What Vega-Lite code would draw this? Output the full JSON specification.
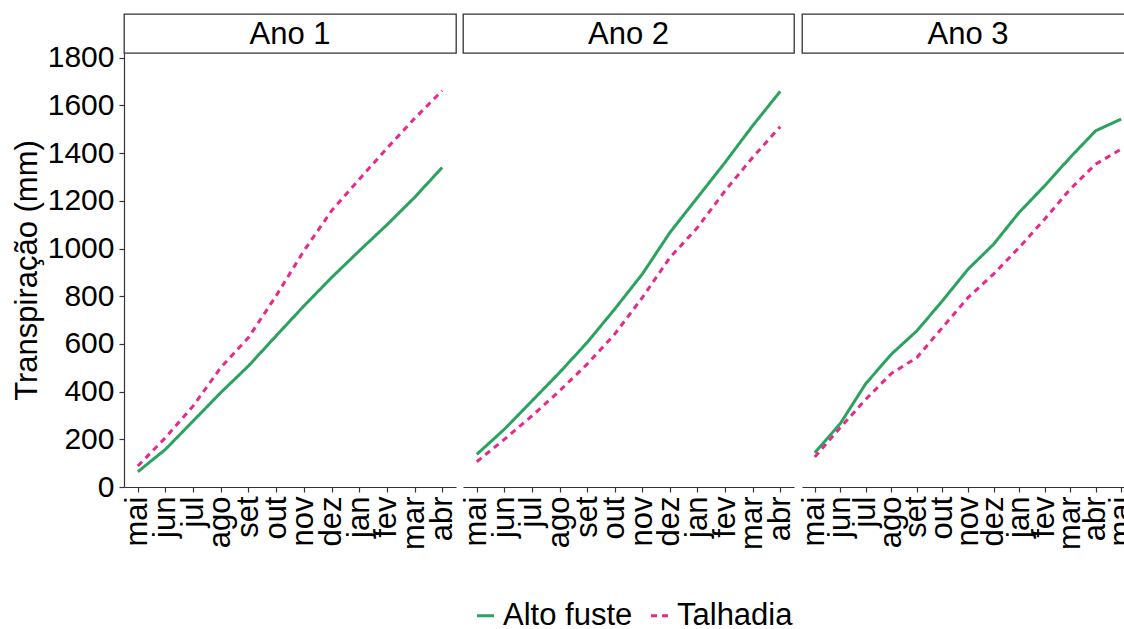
{
"$schema":"https://vega.github.io/schema/vega-lite/v6.json",
"padding":{"left":11,"top":13,"right":0,"bottom":0},
"datasets":{
"paineis":[{"ano":"Ano 1"},{"ano":"Ano 2"},{"ano":"Ano 3"}],
"serie":[
{"ano":"Ano 1","n":1,"mes":"mai","tipo":"Alto fuste","valor":64},
{"ano":"Ano 1","n":2,"mes":"jun","tipo":"Alto fuste","valor":158},
{"ano":"Ano 1","n":3,"mes":"jul","tipo":"Alto fuste","valor":277},
{"ano":"Ano 1","n":4,"mes":"ago","tipo":"Alto fuste","valor":396},
{"ano":"Ano 1","n":5,"mes":"set","tipo":"Alto fuste","valor":508},
{"ano":"Ano 1","n":6,"mes":"out","tipo":"Alto fuste","valor":634},
{"ano":"Ano 1","n":7,"mes":"nov","tipo":"Alto fuste","valor":759},
{"ano":"Ano 1","n":8,"mes":"dez","tipo":"Alto fuste","valor":878},
{"ano":"Ano 1","n":9,"mes":"jan","tipo":"Alto fuste","valor":990},
{"ano":"Ano 1","n":10,"mes":"fev","tipo":"Alto fuste","valor":1099},
{"ano":"Ano 1","n":11,"mes":"mar","tipo":"Alto fuste","valor":1214},
{"ano":"Ano 1","n":12,"mes":"abr","tipo":"Alto fuste","valor":1340},
{"ano":"Ano 1","n":1,"mes":"mai","tipo":"Talhadia","valor":88},
{"ano":"Ano 1","n":2,"mes":"jun","tipo":"Talhadia","valor":207},
{"ano":"Ano 1","n":3,"mes":"jul","tipo":"Talhadia","valor":340},
{"ano":"Ano 1","n":4,"mes":"ago","tipo":"Talhadia","valor":501},
{"ano":"Ano 1","n":5,"mes":"set","tipo":"Talhadia","valor":627},
{"ano":"Ano 1","n":6,"mes":"out","tipo":"Talhadia","valor":802},
{"ano":"Ano 1","n":7,"mes":"nov","tipo":"Talhadia","valor":990},
{"ano":"Ano 1","n":8,"mes":"dez","tipo":"Talhadia","valor":1158},
{"ano":"Ano 1","n":9,"mes":"jan","tipo":"Talhadia","valor":1290},
{"ano":"Ano 1","n":10,"mes":"fev","tipo":"Talhadia","valor":1420},
{"ano":"Ano 1","n":11,"mes":"mar","tipo":"Talhadia","valor":1545},
{"ano":"Ano 1","n":12,"mes":"abr","tipo":"Talhadia","valor":1662},
{"ano":"Ano 2","n":1,"mes":"mai","tipo":"Alto fuste","valor":137},
{"ano":"Ano 2","n":2,"mes":"jun","tipo":"Alto fuste","valor":242},
{"ano":"Ano 2","n":3,"mes":"jul","tipo":"Alto fuste","valor":361},
{"ano":"Ano 2","n":4,"mes":"ago","tipo":"Alto fuste","valor":480},
{"ano":"Ano 2","n":5,"mes":"set","tipo":"Alto fuste","valor":606},
{"ano":"Ano 2","n":6,"mes":"out","tipo":"Alto fuste","valor":746},
{"ano":"Ano 2","n":7,"mes":"nov","tipo":"Alto fuste","valor":893},
{"ano":"Ano 2","n":8,"mes":"dez","tipo":"Alto fuste","valor":1067},
{"ano":"Ano 2","n":9,"mes":"jan","tipo":"Alto fuste","valor":1214},
{"ano":"Ano 2","n":10,"mes":"fev","tipo":"Alto fuste","valor":1361},
{"ano":"Ano 2","n":11,"mes":"mar","tipo":"Alto fuste","valor":1515},
{"ano":"Ano 2","n":12,"mes":"abr","tipo":"Alto fuste","valor":1659},
{"ano":"Ano 2","n":1,"mes":"mai","tipo":"Talhadia","valor":106},
{"ano":"Ano 2","n":2,"mes":"jun","tipo":"Talhadia","valor":200},
{"ano":"Ano 2","n":3,"mes":"jul","tipo":"Talhadia","valor":298},
{"ano":"Ano 2","n":4,"mes":"ago","tipo":"Talhadia","valor":403},
{"ano":"Ano 2","n":5,"mes":"set","tipo":"Talhadia","valor":515},
{"ano":"Ano 2","n":6,"mes":"out","tipo":"Talhadia","valor":641},
{"ano":"Ano 2","n":7,"mes":"nov","tipo":"Talhadia","valor":794},
{"ano":"Ano 2","n":8,"mes":"dez","tipo":"Talhadia","valor":962},
{"ano":"Ano 2","n":9,"mes":"jan","tipo":"Talhadia","valor":1088},
{"ano":"Ano 2","n":10,"mes":"fev","tipo":"Talhadia","valor":1242},
{"ano":"Ano 2","n":11,"mes":"mar","tipo":"Talhadia","valor":1382},
{"ano":"Ano 2","n":12,"mes":"abr","tipo":"Talhadia","valor":1511},
{"ano":"Ano 3","n":1,"mes":"mai","tipo":"Alto fuste","valor":144},
{"ano":"Ano 3","n":2,"mes":"jun","tipo":"Alto fuste","valor":266},
{"ano":"Ano 3","n":3,"mes":"jul","tipo":"Alto fuste","valor":434},
{"ano":"Ano 3","n":4,"mes":"ago","tipo":"Alto fuste","valor":557},
{"ano":"Ano 3","n":5,"mes":"set","tipo":"Alto fuste","valor":655},
{"ano":"Ano 3","n":6,"mes":"out","tipo":"Alto fuste","valor":781},
{"ano":"Ano 3","n":7,"mes":"nov","tipo":"Alto fuste","valor":913},
{"ano":"Ano 3","n":8,"mes":"dez","tipo":"Alto fuste","valor":1018},
{"ano":"Ano 3","n":9,"mes":"jan","tipo":"Alto fuste","valor":1151},
{"ano":"Ano 3","n":10,"mes":"fev","tipo":"Alto fuste","valor":1263},
{"ano":"Ano 3","n":11,"mes":"mar","tipo":"Alto fuste","valor":1382},
{"ano":"Ano 3","n":12,"mes":"abr","tipo":"Alto fuste","valor":1494},
{"ano":"Ano 3","n":13,"mes":"mai","tipo":"Alto fuste","valor":1543},
{"ano":"Ano 3","n":1,"mes":"mai","tipo":"Talhadia","valor":126},
{"ano":"Ano 3","n":2,"mes":"jun","tipo":"Talhadia","valor":249},
{"ano":"Ano 3","n":3,"mes":"jul","tipo":"Talhadia","valor":368},
{"ano":"Ano 3","n":4,"mes":"ago","tipo":"Talhadia","valor":476},
{"ano":"Ano 3","n":5,"mes":"set","tipo":"Talhadia","valor":543},
{"ano":"Ano 3","n":6,"mes":"out","tipo":"Talhadia","valor":669},
{"ano":"Ano 3","n":7,"mes":"nov","tipo":"Talhadia","valor":794},
{"ano":"Ano 3","n":8,"mes":"dez","tipo":"Talhadia","valor":893},
{"ano":"Ano 3","n":9,"mes":"jan","tipo":"Talhadia","valor":1004},
{"ano":"Ano 3","n":10,"mes":"fev","tipo":"Talhadia","valor":1123},
{"ano":"Ano 3","n":11,"mes":"mar","tipo":"Talhadia","valor":1249},
{"ano":"Ano 3","n":12,"mes":"abr","tipo":"Talhadia","valor":1354},
{"ano":"Ano 3","n":13,"mes":"mai","tipo":"Talhadia","valor":1417}
]},
"spacing":2,
"hconcat":[
{"spacing":0,"bounds":"flush","vconcat":[
 {"data":{"name":"paineis"},"transform":[{"filter":"datum.ano==='Ano 1'"}],"width":332,"height":39,
  "view":{"stroke":"#333","strokeWidth":1.3,"fill":"white"},
  "mark":{"type":"text","font":"Liberation Sans","fontSize":31,"color":"black","baseline":"middle","align":"center","dy":1},
  "encoding":{"text":{"field":"ano","type":"nominal"}}},
 {"data":{"name":"serie"},"transform":[{"filter":"datum.ano==='Ano 1'"}],"width":332,"height":434,
  "mark":{"type":"line","strokeWidth":3},
  "encoding":{
   "x":{"field":"n","type":"ordinal","scale":{"type":"point","padding":0.5},
        "axis":{"title":null,"labelAngle":270,"labelOverlap":false,"labelExpr":"['mai','jun','jul','ago','set','out','nov','dez','jan','fev','mar','abr','mai'][datum.value-1]"}},
   "y":{"field":"valor","type":"quantitative","scale":{"domain":[0,1820],"nice":false},
        "axis":{"title":"Transpiração (mm)","values":[0,200,400,600,800,1000,1200,1400,1600,1800],"format":"d"}},
   "color":{"field":"tipo","type":"nominal","scale":{"domain":["Alto fuste","Talhadia"],"range":["#2ca25f","#e7298a"]},
            "legend":{"title":null,"orient":"none","legendX":346,"legendY":586,"direction":"horizontal"}},
   "strokeDash":{"field":"tipo","type":"nominal","scale":{"domain":["Alto fuste","Talhadia"],"range":[[1,0],[6,5]]},
            "legend":{"title":null,"orient":"none","legendX":346,"legendY":586,"direction":"horizontal"}}
  }}
]},
{"spacing":0,"bounds":"flush","vconcat":[
 {"data":{"name":"paineis"},"transform":[{"filter":"datum.ano==='Ano 2'"}],"width":331,"height":39,
  "view":{"stroke":"#333","strokeWidth":1.3,"fill":"white"},
  "mark":{"type":"text","font":"Liberation Sans","fontSize":31,"color":"black","baseline":"middle","align":"center","dy":1},
  "encoding":{"text":{"field":"ano","type":"nominal"}}},
 {"data":{"name":"serie"},"transform":[{"filter":"datum.ano==='Ano 2'"}],"width":331,"height":434,
  "mark":{"type":"line","strokeWidth":3},
  "encoding":{
   "x":{"field":"n","type":"ordinal","scale":{"type":"point","padding":0.5},
        "axis":{"title":null,"labelAngle":270,"labelOverlap":false,"labelExpr":"['mai','jun','jul','ago','set','out','nov','dez','jan','fev','mar','abr','mai'][datum.value-1]"}},
   "y":{"field":"valor","type":"quantitative","scale":{"domain":[0,1820],"nice":false},"axis":null},
   "color":{"field":"tipo","type":"nominal","scale":{"domain":["Alto fuste","Talhadia"],"range":["#2ca25f","#e7298a"]},
            "legend":{"title":null,"orient":"none","legendX":346,"legendY":586,"direction":"horizontal"}},
   "strokeDash":{"field":"tipo","type":"nominal","scale":{"domain":["Alto fuste","Talhadia"],"range":[[1,0],[6,5]]},
            "legend":{"title":null,"orient":"none","legendX":346,"legendY":586,"direction":"horizontal"}}
  }}
]},
{"spacing":0,"bounds":"flush","vconcat":[
 {"data":{"name":"paineis"},"transform":[{"filter":"datum.ano==='Ano 3'"}],"width":332,"height":39,
  "view":{"stroke":"#333","strokeWidth":1.3,"fill":"white"},
  "mark":{"type":"text","font":"Liberation Sans","fontSize":31,"color":"black","baseline":"middle","align":"center","dy":1},
  "encoding":{"text":{"field":"ano","type":"nominal"}}},
 {"data":{"name":"serie"},"transform":[{"filter":"datum.ano==='Ano 3'"}],"width":332,"height":434,
  "mark":{"type":"line","strokeWidth":3},
  "encoding":{
   "x":{"field":"n","type":"ordinal","scale":{"type":"point","padding":0.5},
        "axis":{"title":null,"labelAngle":270,"labelOverlap":false,"labelExpr":"['mai','jun','jul','ago','set','out','nov','dez','jan','fev','mar','abr','mai'][datum.value-1]"}},
   "y":{"field":"valor","type":"quantitative","scale":{"domain":[0,1820],"nice":false},"axis":null},
   "color":{"field":"tipo","type":"nominal","scale":{"domain":["Alto fuste","Talhadia"],"range":["#2ca25f","#e7298a"]},
            "legend":{"title":null,"orient":"none","legendX":346,"legendY":586,"direction":"horizontal"}},
   "strokeDash":{"field":"tipo","type":"nominal","scale":{"domain":["Alto fuste","Talhadia"],"range":[[1,0],[6,5]]},
            "legend":{"title":null,"orient":"none","legendX":346,"legendY":586,"direction":"horizontal"}}
  }}
]}
],
"config":{
 "font":"Liberation Sans",
 "background":"white",
 "view":{"stroke":null},
 "axis":{"grid":false,"labelFont":"Liberation Sans","titleFont":"Liberation Sans","labelColor":"black","titleColor":"black",
         "titleFontSize":31,"titleFontWeight":"normal","domainColor":"#333","tickColor":"#333",
         "domainWidth":1.2,"tickWidth":1.2,"tickSize":5},
 "axisX":{"labelPadding":4,"labelFontSize":31},
 "axisY":{"labelPadding":5,"titlePadding":4,"labelFontSize":30},
 "legend":{"symbolType":"stroke","symbolSize":290,"symbolStrokeWidth":3,"labelFont":"Liberation Sans","labelFontSize":31,
           "labelColor":"black","labelOffset":2,"columnPadding":11,"padding":0}
}
}
